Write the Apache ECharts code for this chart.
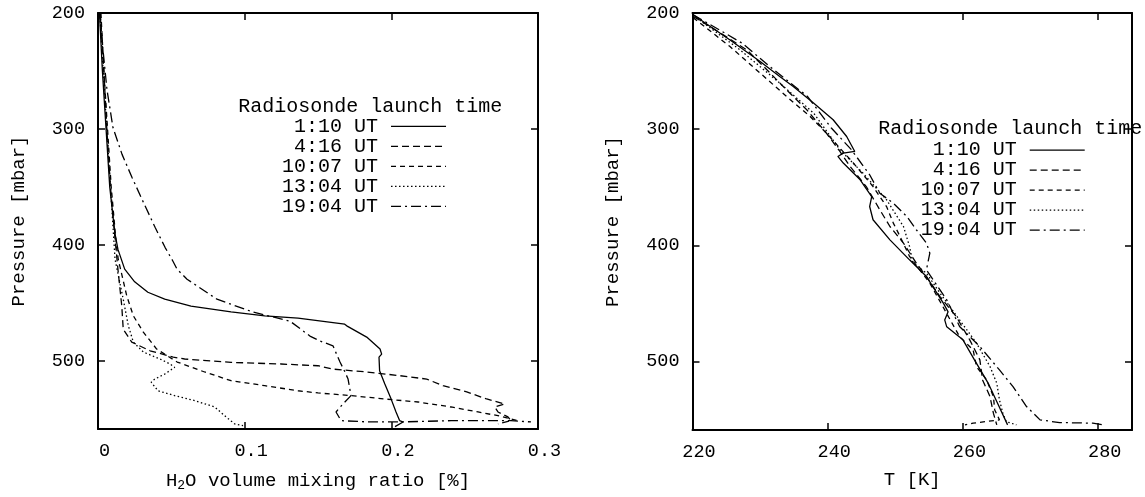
<!DOCTYPE html>
<html>
<head>
<meta charset="utf-8">
<script src="https://cdn.jsdelivr.net/npm/echarts@6/dist/echarts.min.js"></script>
<style>
html,body{margin:0;padding:0;background:#fff;}
#chart{width:1145px;height:497px;}
</style>
</head>
<body>
<div id="chart"></div>
<script>
// ---- data: [value, pressure(mbar)] ----
const seriesNames = ['1:10 UT', '4:16 UT', '10:07 UT', '13:04 UT', '19:04 UT'];
const dashTypes = ['solid', [7, 4], [5, 4], [1.5, 2.5], [10, 4, 2, 4]];

const xTicksLeft = [0, 0.1, 0.2, 0.3];
const xTicksRight = [220, 240, 260, 280];
const pTicks = [200, 300, 400, 500];

// H2O volume mixing ratio [%]
const h2o_0110 = [[0.001,200],[0.003,250],[0.0055,300],[0.008,350],[0.0114,389],[0.0136,404],[0.0182,421],[0.025,432],[0.034,441],[0.0455,447],[0.0634,453],[0.0907,458],[0.1137,461.3],[0.1364,463.3],[0.1682,468.5],[0.1696,470],[0.1832,479.7],[0.1923,490],[0.1934,494.4],[0.1916,497],[0.192,508.7],[0.1955,520],[0.1998,533],[0.2032,544.3],[0.2057,551.8],[0.208,553],[0.2025,557]];
const h2o_0416 = [[0.0015,200],[0.004,250],[0.006,300],[0.0085,350],[0.0116,395],[0.0138,423.7],[0.0162,452.7],[0.0172,472.8],[0.023,484],[0.0355,491.5],[0.0513,497],[0.0591,498.6],[0.0907,501.5],[0.1248,502.9],[0.15,504.4],[0.1602,507.3],[0.1832,509.8],[0.2059,513],[0.2241,515.9],[0.2352,521.6],[0.2514,527],[0.265,533.1],[0.2773,537.4],[0.2705,540],[0.2727,544.3],[0.2795,548.6],[0.2816,551.8],[0.2727,554.6]];
const h2o_1007 = [[0.002,200],[0.004,250],[0.0065,300],[0.009,350],[0.0125,400],[0.0138,412.5],[0.0196,444.1],[0.0241,461.3],[0.0309,475.4],[0.04,490],[0.054,501.2],[0.0727,509.8],[0.0907,517.3],[0.1137,521.6],[0.1364,526],[0.15,527.9],[0.1725,530.2],[0.1955,533.1],[0.2182,535.7],[0.2407,540],[0.2591,544.3],[0.2727,547.5],[0.2816,550.3],[0.2864,551.8]];
const h2o_1304 = [[0.0012,200],[0.0035,250],[0.006,300],[0.0085,350],[0.011,400],[0.0116,412.5],[0.0172,447],[0.0207,470],[0.0241,484],[0.0309,492.6],[0.0423,498.6],[0.0491,502.9],[0.0523,505.8],[0.0455,511.6],[0.0387,515.9],[0.0363,518.7],[0.0409,526],[0.0523,530.2],[0.0659,534.5],[0.0796,540],[0.0873,548.6],[0.0932,554.6],[0.0989,556.1]];
const h2o_1904 = [[0.0014,200],[0.0034,231.6],[0.0061,266],[0.0102,298.8],[0.0164,322],[0.0232,341.9],[0.03,360.8],[0.0389,384.9],[0.0457,402.2],[0.0511,414.2],[0.0539,421.1],[0.0607,429.7],[0.0811,447],[0.1057,458.1],[0.1309,465.9],[0.1445,478.8],[0.1514,483.1],[0.1602,487.2],[0.165,501.2],[0.1684,509.8],[0.1705,515.9],[0.1725,530.2],[0.167,537.4],[0.1623,544.3],[0.1657,551.8],[0.1841,552.9],[0.2066,552.9],[0.2407,551.8],[0.2637,551.8],[0.2816,551.8],[0.2952,552.9]];

// Temperature T [K]
const t_0110 = [[220.1,201.5],[225.5,223],[230,241.7],[232.9,254.6],[234.9,263.2],[237.9,277.5],[240.8,291.9],[242.8,306.3],[244,319.2],[242.3,320.6],[241.5,323.5],[242.3,329.2],[244.8,343.6],[246.5,358],[246.2,366.6],[246.7,378],[249.2,395.3],[252.1,412.5],[254.6,426.9],[257.1,449.8],[257.8,457.3],[257.3,464.2],[257.6,470.2],[260,481.4],[261.7,498.6],[263.7,518.4],[265.1,535.7],[266.6,554.6]];
const t_0416 = [[220.1,202.9],[224.1,217.2],[228,231.6],[231,248.8],[233.9,266.1],[236.9,283.3],[239.8,303.4],[241.8,319.2],[243.3,332.1],[245.7,349.4],[247.7,369.4],[249.2,383.8],[251.2,398.1],[253.1,415.3],[254.6,426.9],[256.6,444.1],[259,461.3],[261,481.4],[262.5,498.6],[262.9,515.9],[264,530.2],[264.5,544.5],[265,554.6]];
const t_1007 = [[220.1,204],[225.5,228.7],[230,251.7],[233.9,271.8],[237.4,289.1],[239.8,303.4],[243.8,329.2],[246.7,349.4],[248.7,366.6],[249.7,380.9],[250.7,392.4],[252.1,409.6],[253.6,421.1],[255.1,432.6],[257.3,455.6],[259.5,478.6],[261.5,490],[262,504.4],[263.5,515.9],[264.5,530.2],[264.7,541.7],[265.4,550.3],[261.5,553.1],[260.3,554.6]];
const t_1304 = [[220.1,202],[227,231.6],[232.9,260.3],[237.9,286.1],[241.8,317.7],[245.2,337.8],[248.7,360.8],[251.2,383.8],[252.1,401],[252.6,415.3],[254.6,423.9],[256.6,441.2],[259.5,464.2],[262,484.2],[264,504.4],[265,518.7],[265.4,533.1],[265.9,544.5],[266.4,551.8],[267.9,554.6]];
const t_1904 = [[220.1,201.5],[227.3,225.8],[232,248.8],[237,271.8],[240.5,298.8],[243.5,317.7],[246.2,339.3],[247.7,355.1],[249.7,363.7],[251.7,375.2],[253.1,386.6],[254.6,398.1],[255.1,406.7],[254.8,415.3],[254.6,421.1],[255.6,429.7],[257.6,447],[259.5,469.9],[262.5,487.2],[265.4,507.3],[267.4,521.6],[269.4,538.8],[271.4,550.3],[274.3,552.6],[279.2,553.1],[280.7,554.6]];

const h2oSets = [h2o_0110, h2o_0416, h2o_1007, h2o_1304, h2o_1904];
const tSets = [t_0110, t_0416, t_1007, t_1304, t_1904];

const FONT = '"Liberation Mono", "Courier New", monospace';
const chart = echarts.init(document.getElementById('chart'), null, {renderer: 'canvas'});

function xAx(grid, min, max, interval, pos, name, nameRich) {
  const bottom = pos === 'bottom';
  return {
    type: 'value', gridIndex: grid, position: pos, min: min, max: max, interval: interval,
    axisLine: {show: true, onZero: false, lineStyle: {color: '#000', width: 2}},
    axisTick: {show: true, inside: true, length: 7, lineStyle: {color: '#000', width: 1.5}},
    axisLabel: {show: bottom, color: '#000', fontFamily: FONT, fontSize: 18.5, margin: 13,
      padding: [0, 0, 0, 13], showMaxLabel: max === 0.3},
    splitLine: {show: false},
    name: bottom ? name : '', nameLocation: 'middle', nameGap: 40,
    nameTextStyle: {color: '#000', fontFamily: FONT, fontSize: 19, rich: nameRich}
  };
}
function yAx(grid, pos, name) {
  const left = pos === 'left';
  return {
    type: 'value', gridIndex: grid, position: pos, inverse: true, min: 200, max: 559, interval: 100,
    axisLine: {show: true, onZero: false, lineStyle: {color: '#000', width: 2}},
    axisTick: {show: true, inside: true, length: 7, lineStyle: {color: '#000', width: 1.5}},
    axisLabel: {show: left, color: '#000', fontFamily: FONT, fontSize: 18.5, margin: 13, showMaxLabel: false},
    splitLine: {show: false},
    name: left ? name : '', nameLocation: 'middle', nameGap: 70,
    nameTextStyle: {color: '#000', fontFamily: FONT, fontSize: 19}
  };
}

const subRich = {
  n: {fontFamily: FONT, fontSize: 19, color: '#000'},
  s: {fontFamily: FONT, fontSize: 13, color: '#000', padding: [10, 0, 0, 0]}
};

const series = [];
seriesNames.forEach((nm, i) => {
  series.push({
    name: nm, type: 'line', xAxisIndex: 0, yAxisIndex: 0, data: h2oSets[i],
    symbol: 'none', smooth: false, silent: true,
    itemStyle: {color: '#000', opacity: 0},
    lineStyle: {color: '#000', width: 1.3, type: dashTypes[i], opacity: 1}
  });
  series.push({
    name: nm, type: 'line', xAxisIndex: 2, yAxisIndex: 2, data: tSets[i],
    symbol: 'none', smooth: false, silent: true,
    itemStyle: {color: '#000', opacity: 0},
    lineStyle: {color: '#000', width: 1.3, type: dashTypes[i], opacity: 1}
  });
});

function legendCfg(left, top, lh) {
  return {
    orient: 'vertical', left: left, top: top, align: 'right', padding: 0,
    itemWidth: 55, itemHeight: 8, itemGap: 0, selectedMode: false,
    data: seriesNames,
    itemStyle: {opacity: 0, borderWidth: 0},
    lineStyle: {color: '#000', width: 1.3, opacity: 1},
    formatter: n => '{t|' + n.padStart(8, ' ') + '}',
    textStyle: {color: '#000', fontFamily: FONT, fontSize: 20, lineHeight: lh,
      rich: {t: {fontFamily: FONT, fontSize: 20, color: '#000', lineHeight: lh, padding: [0, 8, 0, 0]}}}
  };
}

chart.setOption({
  animation: false,
  backgroundColor: '#fff',
  grid: [
    {left: 98, right: 607, top: 13, bottom: 67},
    {left: 692.5, right: 13, top: 13, bottom: 67}
  ],
  xAxis: [
    xAx(0, 0, 0.3, 0.1, 'bottom', '{n|H}{s|2}{n|O volume mixing ratio [%]}', subRich),
    xAx(0, 0, 0.3, 0.1, 'top', ''),
    xAx(1, 220, 285, 20, 'bottom', 'T [K]'),
    xAx(1, 220, 285, 20, 'top', '')
  ],
  yAxis: [
    yAx(0, 'left', 'Pressure [mbar]'),
    yAx(0, 'right', ''),
    yAx(1, 'left', 'Pressure [mbar]'),
    yAx(1, 'right', '')
  ],
  legend: [legendCfg(282, 116.4, 19.2), legendCfg(920.7, 140.2, 19.75)],
  graphic: [
    {type: 'text', x: 238.3, y: 106.7, z: 100,
      style: {text: 'Radiosonde launch time', fontFamily: FONT, fontSize: 20, fill: '#000', verticalAlign: 'middle'}},
    {type: 'text', x: 878.3, y: 128.5, z: 100,
      style: {text: 'Radiosonde launch time', fontFamily: FONT, fontSize: 20, fill: '#000', verticalAlign: 'middle'}}
  ],
  series: series
});
</script>
</body>
</html>
